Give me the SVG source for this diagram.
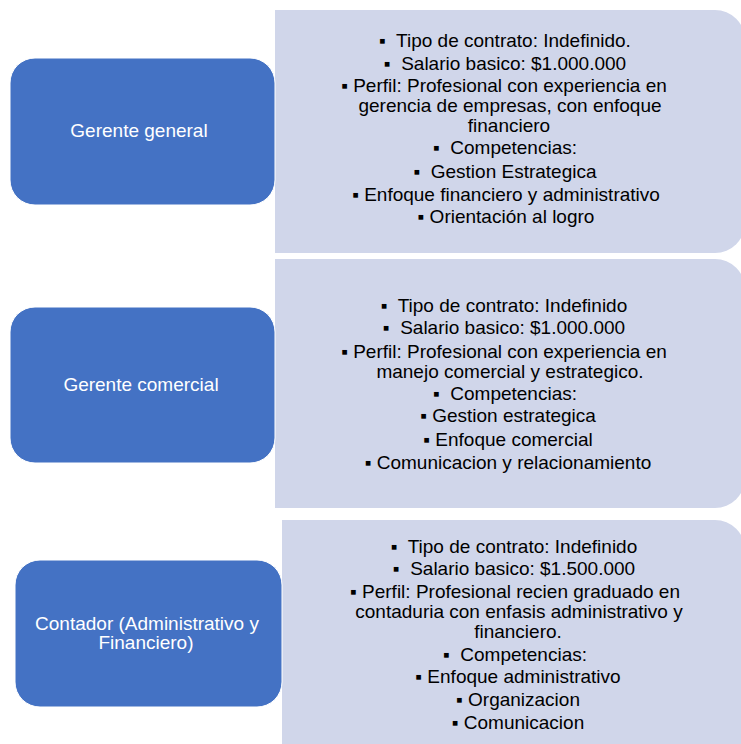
<svg xmlns="http://www.w3.org/2000/svg" width="741" height="744" viewBox="0 0 741 744">
  <style>
    .role { fill: #4472C4; stroke: #ffffff; stroke-width: 1; }
    .detail { fill: #D0D6EA; }
    .rt { font-family: "Liberation Sans", Arial, sans-serif; font-size: 19px; fill: #ffffff; text-anchor: middle; }
    .dt { font-family: "Liberation Sans", Arial, sans-serif; font-size: 19px; fill: #000000; text-anchor: middle; white-space: pre; }
  </style>
  <rect width="741" height="744" fill="#ffffff"/>

  <g id="detalle-gerente-general">
    <path class="detail" d="M275,10 H715 A30,30 0 0 1 745,40 V223 A30,30 0 0 1 715,253 H275 Z"/>
    <text class="dt" x="505" y="47">▪  Tipo de contrato: Indefinido.</text>
    <text class="dt" x="505" y="70">▪  Salario basico: $1.000.000</text>
    <text class="dt" x="504" y="92">▪ Perfil: Profesional con experiencia en</text>
    <text class="dt" x="510" y="112">gerencia de empresas, con enfoque</text>
    <text class="dt" x="509" y="132">financiero</text>
    <text class="dt" x="505" y="154">▪  Competencias:</text>
    <text class="dt" x="505" y="178">▪  Gestion Estrategica</text>
    <text class="dt" x="506" y="201">▪ Enfoque financiero y administrativo</text>
    <text class="dt" x="506" y="223">▪ Orientación al logro</text>
  </g>

  <g id="detalle-gerente-comercial">
    <path class="detail" d="M275,259 H715 A30,30 0 0 1 745,289 V478 A30,30 0 0 1 715,508 H275 Z"/>
    <text class="dt" x="504" y="312">▪  Tipo de contrato: Indefinido</text>
    <text class="dt" x="504" y="334">▪  Salario basico: $1.000.000</text>
    <text class="dt" x="504" y="358">▪ Perfil: Profesional con experiencia en</text>
    <text class="dt" x="510" y="378">manejo comercial y estrategico.</text>
    <text class="dt" x="505" y="400">▪  Competencias:</text>
    <text class="dt" x="508" y="422">▪ Gestion estrategica</text>
    <text class="dt" x="508" y="446">▪ Enfoque comercial</text>
    <text class="dt" x="508" y="469">▪ Comunicacion y relacionamiento</text>
  </g>

  <g id="detalle-contador">
    <path class="detail" d="M282,520 H715 A30,30 0 0 1 745,550 V750 H282 Z"/>
    <text class="dt" x="514" y="553">▪  Tipo de contrato: Indefinido</text>
    <text class="dt" x="514" y="575">▪  Salario basico: $1.500.000</text>
    <text class="dt" x="515" y="598">▪ Perfil: Profesional recien graduado en</text>
    <text class="dt" x="519" y="618">contaduria con enfasis administrativo y</text>
    <text class="dt" x="518" y="638">financiero.</text>
    <text class="dt" x="515" y="661">▪  Competencias:</text>
    <text class="dt" x="518" y="683">▪ Enfoque administrativo</text>
    <text class="dt" x="518" y="706">▪ Organizacion</text>
    <text class="dt" x="518" y="729">▪ Comunicacion</text>
  </g>

  <g id="gerente-general">
    <rect class="role" x="10" y="58" width="265" height="147" rx="25" ry="25"/>
    <text class="rt" x="139" y="137">Gerente general</text>
  </g>

  <g id="gerente-comercial">
    <rect class="role" x="10" y="307" width="265" height="156" rx="25" ry="25"/>
    <text class="rt" x="141" y="391">Gerente comercial</text>
  </g>

  <g id="contador">
    <rect class="role" x="15" y="560" width="267" height="147" rx="25" ry="25"/>
    <text class="rt" x="147" y="630">Contador (Administrativo y</text>
    <text class="rt" x="146" y="649">Financiero)</text>
  </g>

  <g id="connectors"></g>
</svg>
